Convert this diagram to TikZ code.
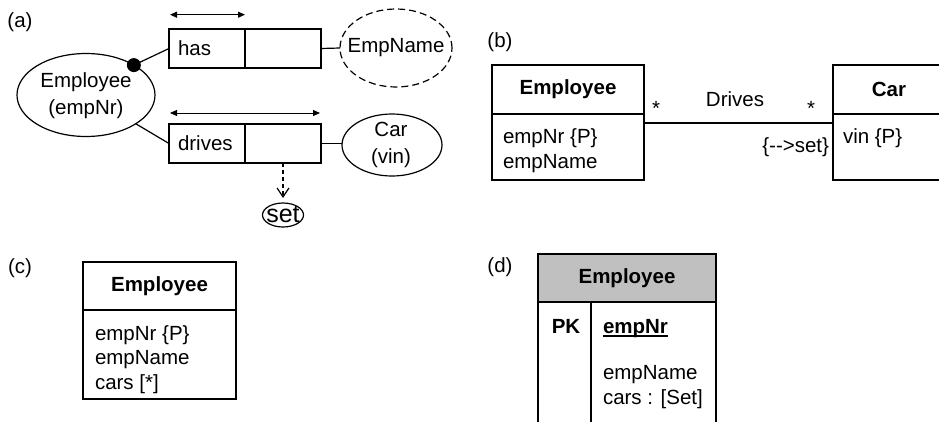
\documentclass[tikz,border=0pt]{standalone}
\usepackage{fontspec}
\setmainfont{Liberation Sans}
\usetikzlibrary{arrows.meta,shapes.geometric}
\definecolor{hdrgray}{RGB}{192,192,192}
\begin{document}
\begin{tikzpicture}[x=1pt,y=-1pt,
  every node/.style={font=\fontsize{20.5}{27}\selectfont, inner sep=0pt, outer sep=0pt},
  ln/.style={line width=1.2pt},
  rolecell/.style={draw, line width=1.2pt, minimum width=76pt, minimum height=39pt},
  classbox/.style={draw, line width=2.2pt},
  span/.style={line width=1pt, {Triangle[length=7pt,width=6pt]}-{Triangle[length=7pt,width=6pt]}},
  attr/.style={anchor=west, align=left},
]
\useasboundingbox (0,0) rectangle (939,421);

% ---------------- (a)
\node (la) at (20,22) {(a)};
\node[draw, ellipse, ln, minimum width=138pt, minimum height=83pt] (emp) at (86,95) {};
\node[align=center] (empt) at (86,96) {Employee\\(empNr)};
\node[circle, fill, minimum size=14pt] (dot) at (emp.32) {};

\node[rolecell] (has1) at (207,48.5) {};
\node[rolecell] (has2) at (283,48.5) {};
\node[anchor=west] (hast) at ([xshift=9pt]has1.west) {has};
\coordinate (ha1) at (170,14.7);
\coordinate (ha2) at (245,14.7);
\draw[span] (ha1) -- (ha2);
\draw[ln] (dot.center) -- (has1.west);

\node[draw, dashed, ellipse, ln, dash pattern=on 7pt off 4pt, minimum width=112pt, minimum height=78pt] (empname) at (396,48) {};
\node (empnamet) at (396,48) {EmpName};
\draw[ln] (has2.east) -- (empname.west);

\node[rolecell] (dr1) at (207,143.5) {};
\node[rolecell] (dr2) at (283,143.5) {};
\node[anchor=west] (drt) at ([xshift=9pt]dr1.west) {drives};
\coordinate (da1) at (170,113);
\coordinate (da2) at (320,113);
\draw[span] (da1) -- (da2);
\draw[ln] (emp.-30) -- (dr1.west);

\node[draw, ellipse, ln, minimum width=100pt, minimum height=62pt] (car) at (392,145) {};
\node[align=center] (cart) at (391,145) {Car\\(vin)};
\draw[ln] (dr2.east) -- (dr2.east -| car.west);

\node[draw, ellipse, ln, minimum width=41pt, minimum height=24pt] (set) at (283,215) {};
\node[anchor=base, font=\fontsize{25}{30}\selectfont] (sett) at (283,222) {set};
\draw[ln, dash pattern=on 4pt off 3pt, -{Straight Barb[length=9pt,width=12pt]}] (dr2.south) -- ([yshift=5pt]set.north);

% ---------------- (b)
\node (lb) at (500,42) {(b)};
\node[classbox, minimum width=152pt, minimum height=49pt] (eh) at (568,89.5) {\bfseries Employee};
\node[classbox, minimum width=152pt, minimum height=66pt, anchor=north] (eb) at (eh.south) {};
\node[attr, font=\fontsize{20.5}{25}\selectfont] (ea) at (503,150.5) {empNr \{P\}\\empName};

\begin{scope}
\clip (0,0) rectangle (939,421);
\node[classbox, minimum width=112pt, minimum height=49pt] (ch) at (889,89.5) {\bfseries Car};
\node[classbox, minimum width=112pt, minimum height=66pt, anchor=north] (cb) at (ch.south) {};
\end{scope}
\node[attr] (ca) at (843,138) {vin \{P\}};

\draw[ln] ([yshift=-9pt]eb.north east) -- ([yshift=-9pt]cb.north west);
\node (m1) at (656,108) {*};
\node (m2) at (811,108) {*};
\node (drv) at (735,99) {Drives};
\node[anchor=east] (cons) at (829,147) {\{-{}->set\}};

% ---------------- (c)
\node (lc) at (20,268) {(c)};
\node[classbox, minimum width=153pt, minimum height=48pt] (ch2) at (159.5,286) {\bfseries Employee};
\node[classbox, minimum width=153pt, minimum height=89pt, anchor=north] (cb2) at (ch2.south) {};
\node[attr, font=\fontsize{20.5}{24.5}\selectfont] (ca2) at (95,359.5) {empNr \{P\}\\empName\\cars [*]};

% ---------------- (d)
\node (ld) at (500,267) {(d)};
\node[classbox, fill=hdrgray, minimum width=178pt, minimum height=48pt] (dh) at (627,278) {\bfseries Employee};
\begin{scope}
\clip (0,0) rectangle (939,421);
\node[classbox, minimum width=178pt, minimum height=135pt, anchor=north] (db) at (dh.south) {};
\draw[line width=2pt] ([xshift=53pt]db.north west) -- ([xshift=53pt]db.south west);
\end{scope}
\node (pk) at (566,326) {\bfseries PK};
\node[anchor=base west] (pkn) at (603,333) {\bfseries empNr};
\draw[line width=2pt] ([yshift=-3pt]pkn.base west) -- ([yshift=-3pt]pkn.base east);
\node[attr, font=\fontsize{20.5}{25}\selectfont] (da) at (603,387.5) {empName\\cars : [Set]};
\end{tikzpicture}
\end{document}
